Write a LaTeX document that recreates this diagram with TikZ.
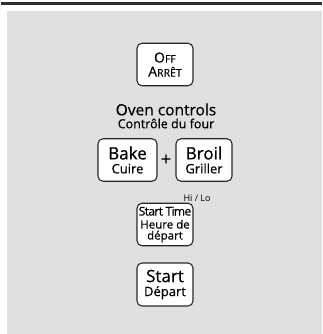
\documentclass[tikz,border=0pt]{standalone}
\usepackage{fontspec}
\setmainfont{Open Sans}
\newfontfamily\medfont{Open Sans}[FakeBold=0.5]
\definecolor{panelgray}{RGB}{224,224,224}
\definecolor{bardark}{RGB}{45,45,45}
\definecolor{keyline}{RGB}{40,40,40}
\usetikzlibrary{positioning}

\begin{document}
\begin{tikzpicture}[x=1pt, y=-1pt,
    key/.style={draw=keyline, line width=1.1pt, rounded corners=5pt, fill=white,
                align=center, inner sep=0pt, minimum width=56pt, minimum height=42.5pt,
                font=\medfont}
  ]
  \useasboundingbox (0,0) rectangle (322,334);
  % top bar and panel
  \fill[bardark] (1,2) rectangle (322,5);
  \fill[panelgray] (7,11) rectangle (322,334);

  \node[key] (off) at (165,64.5) {%
    {\fontsize{14}{14}\selectfont O\fontsize{10.5}{10.5}\selectfont FF}\\[2pt]
    {\fontsize{14}{14}\selectfont A\fontsize{10.5}{10.5}\selectfont RRÊT}};
  \node[font=\medfont\fontsize{15.5}{16}\selectfont] (title) at (166,109.5) {Oven controls};
  \node[font=\medfont\fontsize{12.5}{12.5}\selectfont] (subtitle) at (166,123.5) {Contrôle du four};

  \node[key, minimum width=59pt] (bake) at (127.5,160) {%
    {\fontsize{17}{17}\selectfont Bake}\\[2pt]
    {\fontsize{13}{13}\selectfont Cuire}};
  \node[font=\medfont\fontsize{18}{18}\selectfont] (plus) at (166,160) {+};
  \node[key] (broil) at (204,160) {%
    {\fontsize{17}{17}\selectfont Broil}\\[2pt]
    {\fontsize{13}{13}\selectfont Griller}};
  \node[font=\fontsize{9}{10}\selectfont] (hilo) at (197,198) {Hi / Lo};

  \node[key] (stime) at (165,224.5) {%
    {\fontsize{12}{12}\selectfont\addfontfeatures{LetterSpace=-5}Start Time}\\[1pt]
    {\fontsize{11.5}{12}\selectfont Heure de}\\[-1pt]
    {\fontsize{11.5}{12}\selectfont départ}};
  \node[key, minimum height=43pt] (start) at (165,284.5) {%
    {\fontsize{17}{17}\selectfont Start}\\[2pt]
    {\fontsize{13}{13}\selectfont Départ}};
\end{tikzpicture}
\end{document}
